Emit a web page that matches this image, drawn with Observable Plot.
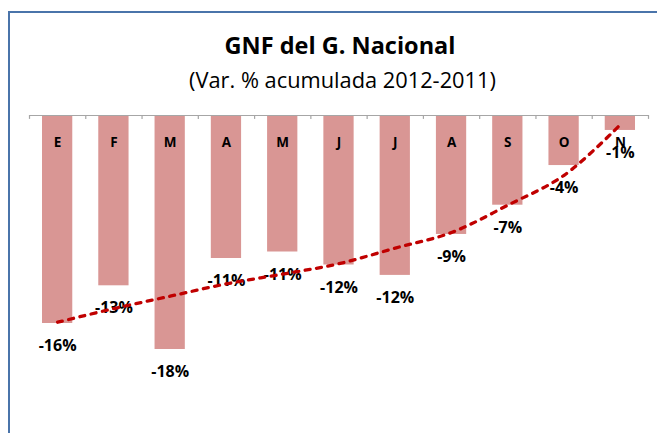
<!DOCTYPE html>
<html>
<head>
<meta charset="utf-8">
<script src="https://cdn.jsdelivr.net/npm/d3@7"></script>
<script src="https://cdn.jsdelivr.net/npm/@observablehq/plot@0.6"></script>
<style>
  html, body { margin: 0; padding: 0; background: #fff; }
  #wrap { position: relative; width: 657px; height: 433px; overflow: hidden; background: #fff; }
  #frameTop { position: absolute; left: 8px; top: 11px; width: 660px; height: 0; border-top: 2px solid #4a74aa; z-index: 3; }
  #frameLeft { position: absolute; left: 8px; top: 11px; width: 0; height: 440px; border-left: 2px solid #4a74aa; z-index: 3; }
  #title { position: absolute; left: 0; width: 680px; top: 29px; text-align: center; font-family: "Open Sans", sans-serif; font-weight: 700; font-size: 23.5px; color: #000; z-index: 2; }
  #subtitle { position: absolute; left: 0; width: 685px; top: 65px; text-align: center; font-family: "Open Sans", sans-serif; font-weight: 400; font-size: 21.8px; color: #000; z-index: 2; }
  #chart { position: absolute; left: 0; top: 100px; z-index: 1; }
</style>
</head>
<body>
<div id="wrap">
  <div id="frameTop"></div>
  <div id="frameLeft"></div>
  <div id="title">GNF del G. Nacional</div>
  <div id="subtitle">(Var. % acumulada 2012-2011)</div>
  <div id="chart"></div>
</div>
<script>
const months = ["E","F","M","A","M","J","J","A","S","O","N"];
const values = [-16.0, -13.1, -18.0, -11.0, -10.5, -11.5, -12.3, -9.15, -6.9, -3.85, -1.15];
const valueLabels = ["-16%","-13%","-18%","-11%","-11%","-12%","-12%","-9%","-7%","-4%","-1%"];
const trend = [-15.9, -14.85, -13.9, -12.95, -12.2, -11.4, -10.2, -9.0, -6.9, -4.6, -0.7];

const data = months.map((m, i) => ({i, month: m, value: values[i], label: valueLabels[i], trend: trend[i]}));
const boundaries = d3.range(0, months.length + 1);

const plot = Plot.plot({
  width: 657,
  height: 333,
  marginTop: 15,
  marginBottom: 58,
  marginLeft: 29,
  marginRight: 9,
  style: {background: "transparent", fontFamily: "Open Sans, sans-serif"},
  x: {domain: [0, months.length], axis: null},
  y: {domain: [-20, 0], axis: null},
  marks: [
    Plot.rectY(data, {x1: d => d.i, x2: d => d.i + 1, y1: 0, y2: "value", insetLeft: 13, insetRight: 13, fill: "#d99694"}),
    Plot.ruleY([0], {stroke: "#a6a6a6", strokeWidth: 1.2}),
    Plot.ruleX(boundaries, {x: d => d, y1: 0, y2: -0.3, stroke: "#a6a6a6", strokeWidth: 1.2}),
    Plot.text(data, {x: d => d.i + 0.5, y: 0, text: "month", dy: 27, fontSize: 13.5, fontWeight: 700, fill: "#000"}),
    Plot.text(data, {x: d => d.i + 0.5, y: "value", text: "label", dy: 22.5, fontSize: 16, fontWeight: 700, fill: "#000"}),
    Plot.line(data, {x: d => d.i + 0.5, y: "trend", curve: "catmull-rom", stroke: "#c00000", strokeWidth: 3.3, strokeDasharray: "5,6.5", strokeLinecap: "round"})
  ]
});
document.getElementById("chart").appendChild(plot);
</script>
</body>
</html>
